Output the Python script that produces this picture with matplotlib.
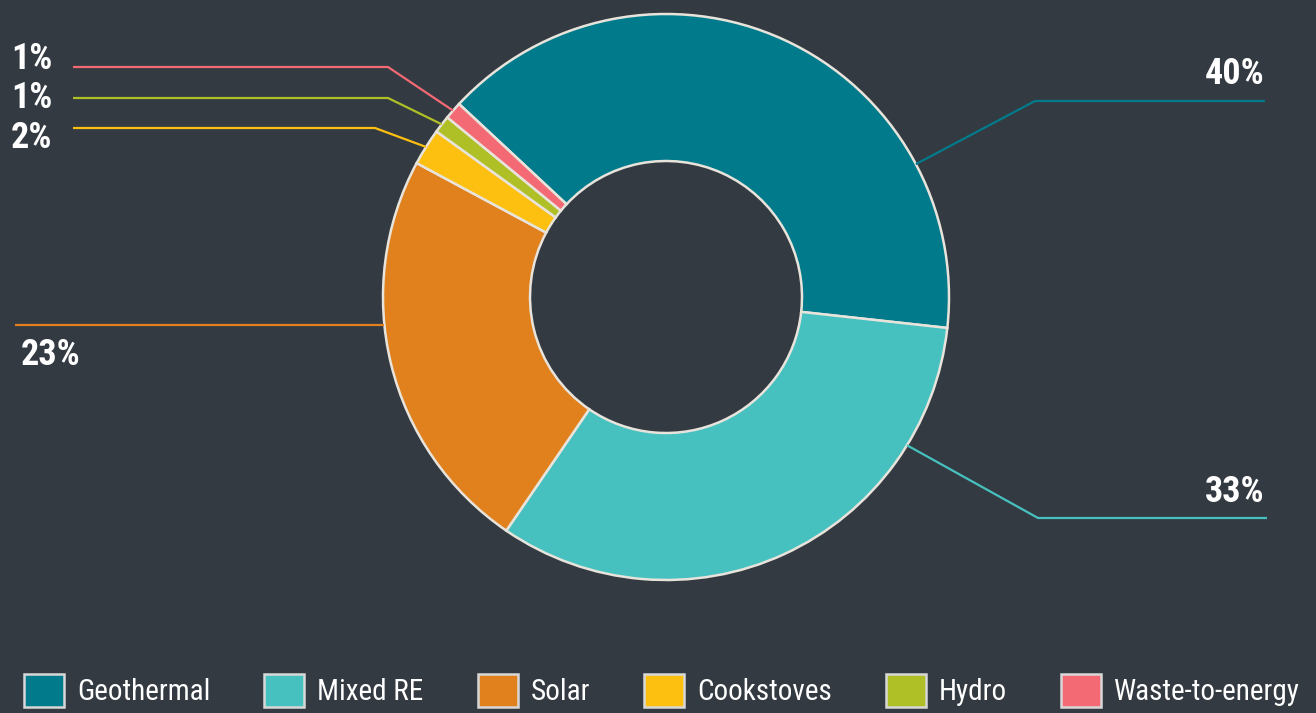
import numpy as np
import matplotlib
matplotlib.use("Agg")
import matplotlib.pyplot as plt
from matplotlib.patches import Patch

categories = ["Geothermal", "Mixed RE", "Solar", "Cookstoves", "Hydro", "Waste-to-energy"]
values = [39.8, 32.8, 23.3, 2.1, 1.0, 1.0]
labels = ["40%", "33%", "23%", "2%", "1%", "1%"]
colors = ["#017b8b", "#47c1bf", "#e0811e", "#fdc010", "#afbf26", "#f36a75"]

BG = "#343a42"
EDGE = "#e8e4dc"
W, H = 1316, 713
FONT = ["Roboto Condensed", "DejaVu Sans"]

fig = plt.figure(figsize=(W / 100, H / 100), dpi=100, facecolor=BG)
ax = fig.add_axes([0, 0, 1, 1])
ax.set_facecolor(BG)

def Y(y):
    return H - y

cx, cy, R, Rin = 666, Y(297), 283, 136
wedges, _ = ax.pie(values, colors=colors, radius=R, center=(cx, cy),
                   startangle=137, counterclock=False,
                   wedgeprops=dict(width=R - Rin, edgecolor=EDGE, linewidth=1.8))

# label layout: (anchor angle or None for mid, elbow (x, y), end x, text (x, y), ha)
layout = [
    (28.0, (1035, 101), 1265, (1264, 74), "right"),
    (-31.6, (1038, 518), 1267, (1264, 492), "right"),
    (185.7, None, 15, (21, 355), "left"),
    (None, (375, 128), 73, (11, 138), "left"),
    (None, (388, 98), 73, (11, 98), "left"),
    (None, (388, 67), 73, (11, 59), "left"),
]

for w, lab, col, (ang, elbow, endx, tpos, ha) in zip(wedges, labels, colors, layout):
    if ang is None:
        ang = (w.theta1 + w.theta2) / 2
    a = np.deg2rad(ang)
    sx, sy = cx + R * np.cos(a), cy + R * np.sin(a)
    if elbow is None:
        xs, ys = [sx, endx], [sy, sy]
    else:
        xs, ys = [sx, elbow[0], endx], [sy, Y(elbow[1]), Y(elbow[1])]
    ax.plot(xs, ys, color=col, lw=1.6, solid_capstyle="butt", zorder=1)
    ax.text(tpos[0], Y(tpos[1]), lab, ha=ha, va="center", color="white",
            fontsize=26, fontweight="bold", family=FONT)

ax.set_xlim(0, W)
ax.set_ylim(0, H)
ax.set_aspect("equal")
ax.axis("off")

handles = [Patch(facecolor=c, edgecolor="#d8d8d8", linewidth=1.8) for c in colors]
leg = fig.legend(handles, categories, loc="lower center", ncol=6,
                 bbox_to_anchor=(0.503, -0.028), frameon=False,
                 prop=dict(family=FONT, size=21),
                 handlelength=1.37, handleheight=1.37, handletextpad=0.45,
                 columnspacing=1.85, labelcolor="white")

fig.savefig("out.png", dpi=100, facecolor=BG)
